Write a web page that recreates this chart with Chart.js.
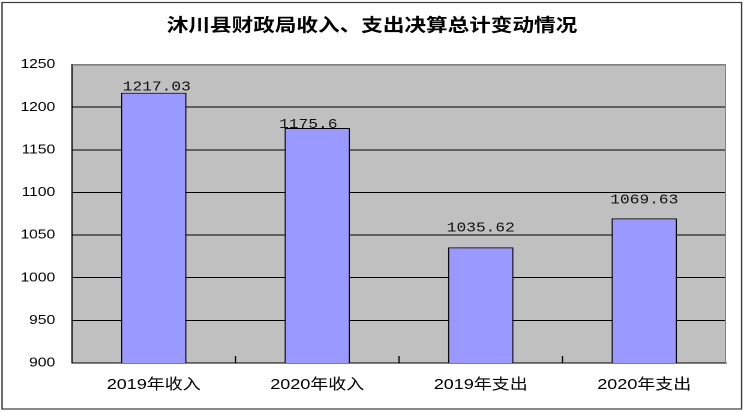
<!DOCTYPE html>
<html>
<head>
<meta charset="utf-8">
<script src="https://cdn.jsdelivr.net/npm/chart.js@4.4.1/dist/chart.umd.min.js"></script>
<style>
  html, body { margin: 0; padding: 0; background: #fff; overflow: hidden; }
  #wrap { position: absolute; left: 0; top: 0; width: 620px; height: 412px; transform: scaleX(1.2); transform-origin: 0 0; }
</style>
</head>
<body>
<div id="wrap"><canvas id="c"></canvas></div>
<script>
const titleText = '沐川县财政局收入、支出决算总计变动情况';
const categories = ['2019年收入', '2020年收入', '2019年支出', '2020年支出'];
const values = [1217.03, 1175.6, 1035.62, 1069.63];
const valueLabels = ['1217.03', '1175.6', '1035.62', '1069.63'];
const yMin = 900, yMax = 1250, yStep = 50;

const decor = {
  id: 'decor',
  beforeDraw(chart) {
    const { ctx, chartArea: a } = chart;
    ctx.save();
    ctx.fillStyle = '#fff';
    ctx.fillRect(0, 0, chart.width, chart.height);
    ctx.fillStyle = '#C0C0C0';
    ctx.fillRect(a.left, a.top, a.right - a.left, a.bottom - a.top);
    ctx.restore();
  },
  afterDatasetsDraw(chart, args, opts) {
    const { ctx, chartArea: a } = chart;
    ctx.save();
    ctx.strokeStyle = '#808080';
    ctx.lineWidth = 1;
    ctx.beginPath();
    ctx.moveTo(a.left, a.top + 0.5);
    ctx.lineTo(a.right - 0.5, a.top + 0.5);
    ctx.lineTo(a.right - 0.5, a.bottom);
    ctx.stroke();
    const meta = chart.getDatasetMeta(0);
    ctx.strokeStyle = '#000';
    ctx.beginPath();
    for (let i = 1; i < meta.data.length; i++) {
      const x = (meta.data[i - 1].x + meta.data[i].x) / 2;
      ctx.moveTo(x, a.bottom - 7);
      ctx.lineTo(x, a.bottom);
    }
    ctx.stroke();
    ctx.fillStyle = '#111';
    ctx.font = '13.5px "Liberation Mono", "DejaVu Sans Mono", monospace';
    ctx.textAlign = 'center';
    ctx.textBaseline = 'alphabetic';
    meta.data.forEach((bar, i) => {
      ctx.fillText(valueLabels[i], bar.x + opts.dx[i], bar.y - opts.dy[i]);
    });
    ctx.strokeStyle = '#3c3c3c';
    ctx.lineWidth = 1.2;
    ctx.strokeRect(1.7, 2.5, 616.3, 406.5);
    ctx.restore();
  }
};

new Chart(document.getElementById('c'), {
  type: 'bar',
  data: {
    labels: categories,
    datasets: [{
      data: values,
      backgroundColor: '#9999FF',
      borderColor: '#000',
      borderWidth: 1,
      borderSkipped: false,
      barPercentage: 0.4,
      categoryPercentage: 1.0
    }]
  },
  options: {
    responsive: true,
    maintainAspectRatio: false,
    animation: false,
    devicePixelRatio: 2,
    layout: { padding: { left: 15, right: 15, top: 0, bottom: 0 } },
    plugins: {
      legend: { display: false },
      tooltip: { enabled: false },
      title: {
        display: true,
        text: titleText,
        color: '#000',
        font: { family: '"Noto Sans CJK SC", sans-serif', size: 18, weight: 'bold', lineHeight: 1.2 },
        padding: { top: 14, bottom: 29 }
      },
      decor: { dx: [2.5, -7.5, 0, 0], dy: [2, 0, 16, 15] }
    },
    scales: {
      x: {
        grid: { display: false, drawTicks: false },
        border: { display: true, color: '#000', width: 1 },
        ticks: {
          color: '#000',
          padding: 13,
          maxRotation: 0,
          font: { family: '"Liberation Sans", "Noto Sans CJK SC", sans-serif', size: 15 }
        },
        afterFit(scale) { scale.height = 49; }
      },
      y: {
        min: yMin,
        max: yMax,
        grid: {
          drawTicks: false,
          color: (c) => (c.tick && c.tick.value === yMax ? '#808080' : '#000'),
          lineWidth: 1
        },
        border: { display: true, color: '#000', width: 1 },
        ticks: {
          stepSize: yStep,
          color: '#000',
          padding: 14,
          callback: (v) => String(v),
          font: { family: '"Liberation Sans", sans-serif', size: 13 }
        },
        afterFit(scale) { scale.width = 45; }
      }
    }
  },
  plugins: [decor]
});
</script>
</body>
</html>
